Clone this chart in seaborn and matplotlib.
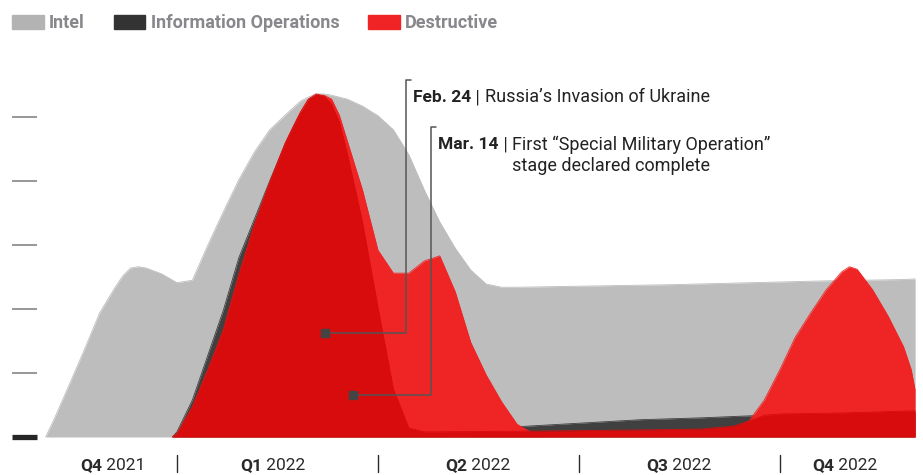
import matplotlib
matplotlib.use("Agg")
import matplotlib.pyplot as plt
import seaborn as sns
from matplotlib.patches import Patch

# x = weeks since Oct 1 2021, y = activity level
intel_w = [4.5, 5, 6, 7, 8, 9, 9.5, 10, 10.5, 11, 12, 13, 14, 15, 16, 17, 18, 19, 20, 21,
           21.5, 22, 22.5, 23, 23.5, 24, 25, 26, 27, 28, 29, 30, 31, 32, 33, 34, 35,
           40, 45, 50, 55, 60, 60.75]
intel_v = [0, 0.25, 0.80, 1.36, 1.94, 2.34, 2.52, 2.64, 2.66, 2.64, 2.55, 2.41, 2.45, 3.00,
           3.52, 4.02, 4.45, 4.80, 5.03, 5.25, 5.31, 5.36, 5.36, 5.34, 5.31, 5.28, 5.17, 5.02,
           4.80, 4.41, 3.86, 3.36, 2.95, 2.61, 2.39, 2.34, 2.34, 2.36, 2.38, 2.41, 2.44,
           2.46, 2.47]

info_w = [12.7, 13, 14, 15, 16, 17, 18, 19, 20, 21, 22, 23, 24, 25, 26, 27, 28, 29, 30,
          33, 35, 43, 47, 50, 52, 60.75]
info_v = [0, 0.08, 0.58, 1.28, 1.98, 2.80, 3.40, 4.00, 4.58, 5.05, 5.30, 5.10, 4.30, 3.20,
          2.00, 0.90, 0.40, 0.30, 0.25, 0.18, 0.16, 0.27, 0.30, 0.33, 0.34, 0.375]

# destructive, second wave (bright red)
destr_b_w = [12.7, 13, 14, 15, 16, 17, 18, 19, 20, 20.5, 21, 21.5, 22, 22.5, 23, 23.5, 24,
             25, 26, 27, 28, 29, 30, 31, 32, 33, 34, 35, 36, 37, 48, 49, 50, 51, 52, 53,
             54, 55, 56, 56.5, 57, 58, 59, 60, 60.5, 60.75]
destr_b_v = [0, 0.05, 0.47, 1.05, 1.67, 2.53, 3.31, 3.98, 4.59, 4.84, 5.08, 5.27, 5.34, 5.34,
             5.28, 5.03, 4.64, 3.86, 2.92, 2.56, 2.56, 2.75, 2.83, 2.27, 1.48, 0.97, 0.55,
             0.20, 0.06, 0, 0, 0.10, 0.25, 0.58, 1.05, 1.56, 1.94, 2.30, 2.58, 2.66, 2.62,
             2.30, 1.89, 1.41, 1.05, 0.73]

# destructive, first wave (dark red)
destr_a_w = [12.7, 13, 14, 15, 16, 17, 18, 19, 20, 20.5, 21, 21.5, 22, 22.5, 23, 23.5, 24,
             25, 26, 27, 28, 29, 35, 43, 47, 49, 50, 51, 52, 56, 60.75]
destr_a_v = [0, 0.05, 0.47, 1.05, 1.67, 2.53, 3.31, 3.98, 4.59, 4.84, 5.08, 5.28, 5.36, 5.33,
             5.20, 4.92, 4.45, 3.36, 2.03, 0.75, 0.14, 0.08, 0.09, 0.11, 0.125, 0.17, 0.25,
             0.34, 0.36, 0.375, 0.41]

quarter_bold = ["Q4", "Q1", "Q2", "Q3", "Q4"]
quarter_year = ["2021", "2022", "2022", "2022", "2022"]
quarter_start = [6.73, 17.08, 30.34, 43.34, 54.08]
quarter_breaks = [13, 26, 39, 52]

# events: marker position, elbow x, label
event_w = [22.57, 24.39]
event_v = [1.625, 0.656]
event_elbow = [27.8, 29.43]
event_top = [5.58, 4.84]
event_bold = ["Feb. 24", "Mar. 14"]
event_text = ["Russia\u2019s Invasion of Ukraine",
              "First \u201cSpecial Military Operation\u201d\nstage declared complete"]

c_intel = "#bdbdbd"
c_info = "#404040"
c_red = "#ef2424"
c_dred = "#d80c0c"

sns.set_theme(style="white")
plt.rcParams['font.family'] = ['Roboto', 'DejaVu Sans']

fig = plt.figure(figsize=(9.23, 4.75), dpi=100)
ax = fig.add_axes([37 / 923, 0, 886 / 923, 1])
ax.set_xlim(3.946, 61.26)
ax.set_ylim(-0.594, 6.828)

layers = [(intel_w, intel_v, c_intel), (info_w, info_v, c_info),
          (destr_b_w, destr_b_v, c_red), (destr_a_w, destr_a_v, c_dred)]
for i, (w, v, c) in enumerate(layers):
    ax.fill_between(w, 0, v, color=c, lw=0, zorder=1 + 2 * i)
    sns.lineplot(x=w, y=v, color=c, lw=0.6, ax=ax, estimator=None, sort=False,
                 zorder=2 + 2 * i)

# y ticks
for s in ax.spines.values():
    s.set_visible(False)
ax.set_xticks([])
ax.set_yticks([0, 1, 2, 3, 4, 5])
ax.set_yticklabels([])
ax.tick_params(axis='y', left=True, direction='out', length=18, width=1.1, color='#7a7a7a')
t0 = ax.yaxis.get_major_ticks()[0]
t0.tick1line.set_markeredgewidth(3.8)
t0.tick1line.set_markeredgecolor('#262626')

# quarter labels and separators
for x0, b, yr in zip(quarter_start, quarter_bold, quarter_year):
    t = ax.text(x0, -0.45, b, fontsize=12.5, fontweight='bold', color='#2a2a2a',
                va='center', ha='left')
    ax.annotate(" " + yr, xy=(1, 0.5), xycoords=t, fontsize=12.5, color='#2a2a2a',
                va='center', ha='left')
for xb in quarter_breaks:
    ax.plot([xb, xb], [-0.28, -0.55], color='#2a2a2a', lw=1)

# event annotations
for w, v, xe, yt, b, txt in zip(event_w, event_v, event_elbow, event_top, event_bold, event_text):
    ax.plot([w, xe, xe, xe + 0.33], [v, v, yt, yt], color='#555555', lw=1.1, zorder=20)
    ax.plot(w, v, marker='s', ms=6, color='#444444', mec='#444444', zorder=21)
    t = ax.text(xe + 0.47, yt - 0.27, b, fontsize=12.5, fontweight='bold', color='#222222',
                va='center', ha='left')
    sep = ax.annotate(" | ", xy=(1, 0.5), xycoords=t, fontsize=13, color='#222222',
                      va='center', ha='left')
    ax.annotate(txt, xy=(1, 1), xycoords=sep, fontsize=13, color='#222222',
                va='top', ha='left', linespacing=1.2)

# legend
handles = [Patch(color='#b3b3b3', label='Intel'),
           Patch(color='#333333', label='Information Operations'),
           Patch(color='#f02424', label='Destructive')]
fig.legend(handles=handles, loc='upper left', bbox_to_anchor=(12 / 923, 1 - 14 / 475),
           ncol=3, frameon=False, borderaxespad=0, borderpad=0, handlelength=1.75,
           handleheight=0.8, handletextpad=0.3, columnspacing=1.6,
           prop={'weight': 'bold', 'size': 13}, labelcolor='#88888c')

fig.savefig("out.png", dpi=100)
